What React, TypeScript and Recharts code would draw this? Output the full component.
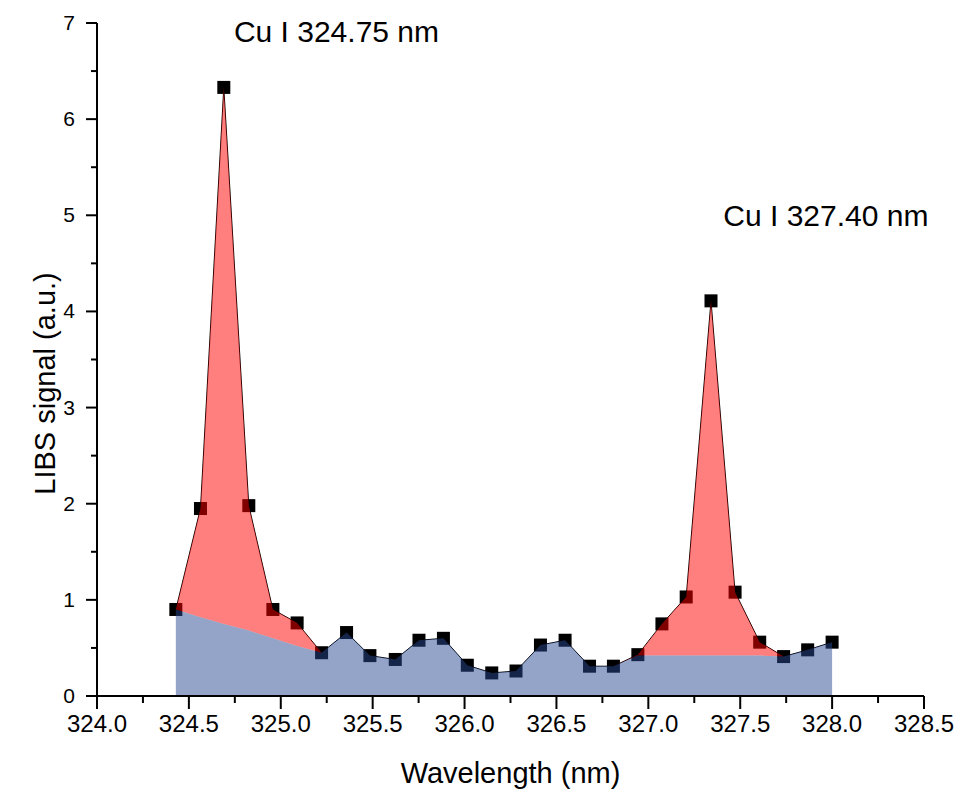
import React from "react";
import {
  ComposedChart,
  Area,
  Line,
  XAxis,
  YAxis,
  ReferenceDot,
  Label,
} from "recharts";

// Cu I doublet, LIBS spectrum with fitted continuum
const wavelength = [
  324.429, 324.563, 324.69, 324.826, 324.957, 325.089, 325.222, 325.358,
  325.485, 325.623, 325.752, 325.885, 326.015, 326.148, 326.28, 326.413,
  326.547, 326.68, 326.81, 326.943, 327.074, 327.206, 327.341, 327.472,
  327.606, 327.736, 327.867, 328.0,
];
const signal = [
  0.9, 1.95, 6.33, 1.98, 0.9, 0.76, 0.45, 0.66, 0.42, 0.38, 0.58, 0.6, 0.32,
  0.24, 0.26, 0.53, 0.58, 0.31, 0.31, 0.43, 0.75, 1.03, 4.11, 1.08, 0.56,
  0.41, 0.48, 0.56,
];
const continuum = [
  0.9, 0.82, 0.75, 0.68, 0.6, 0.52, 0.45, 0.66, 0.42, 0.38, 0.58, 0.6, 0.32,
  0.24, 0.26, 0.53, 0.58, 0.31, 0.31, 0.42, 0.42, 0.42, 0.42, 0.42, 0.42,
  0.41, 0.48, 0.56,
];

const xTicks = [
  324.0, 324.25, 324.5, 324.75, 325.0, 325.25, 325.5, 325.75, 326.0, 326.25,
  326.5, 326.75, 327.0, 327.25, 327.5, 327.75, 328.0, 328.25, 328.5,
];
const yTicks = [0, 0.5, 1, 1.5, 2, 2.5, 3, 3.5, 4, 4.5, 5, 5.5, 6, 6.5, 7];

const lineNames = ["Cu I 324.75 nm", "Cu I 327.40 nm"];
const lineNameX = [325.303, 327.966];
const lineNameY = [6.91, 4.995];

const FONT = "Arial, 'Liberation Sans', sans-serif";
const W = 965;
const H = 796;
const MARGIN = { top: 23, right: 41, left: 0, bottom: 0 };

const data = wavelength.map((w, i) => ({
  wavelength: w,
  signal: signal[i],
  continuum: continuum[i],
  peak: [continuum[i], signal[i]],
}));

const isMajor = (v: number, step: number) =>
  Math.abs(v / step - Math.round(v / step)) < 1e-6;

function XTick(props: any) {
  const { x, y, payload } = props;
  const major = isMajor(payload.value, 0.5);
  return (
    <g>
      <line x1={x} x2={x} y1={y} y2={y + (major ? 13 : 7)} stroke="#000" strokeWidth={2} />
      {major && (
        <text x={x} y={y + 36} textAnchor="middle" fontSize={24} fontFamily={FONT} fill="#000">
          {payload.value.toFixed(1)}
        </text>
      )}
    </g>
  );
}

function YTick(props: any) {
  const { x, y, payload } = props;
  const major = isMajor(payload.value, 1);
  return (
    <g>
      <line x1={x} x2={x - (major ? 11 : 6)} y1={y} y2={y} stroke="#000" strokeWidth={2} />
      {major && (
        <text x={x - 22} y={y + 7} textAnchor="end" fontSize={21} fontFamily={FONT} fill="#000">
          {payload.value}
        </text>
      )}
    </g>
  );
}

function SquareDot(props: any) {
  const { cx, cy, index } = props;
  if (cx == null || cy == null) return null;
  return <rect key={`sq-${index}`} x={cx - 6.5} y={cy - 6.5} width={13} height={13} fill="#000" stroke="none" />;
}

// same scales in both layers; only the top layer shows the axes
function axes(visible: boolean) {
  return [
    <XAxis
      key="x"
      dataKey="wavelength"
      type="number"
      domain={[324, 328.5]}
      ticks={xTicks}
      interval={0}
      height={100}
      tickSize={0}
      tickMargin={0}
      tickLine={false}
      tick={visible ? <XTick /> : false}
      axisLine={visible ? { stroke: "#000", strokeWidth: 2 } : false}
    >
      {visible && (
        <Label
          content={(p: any) => {
            const vb = p.viewBox;
            return (
              <text x={vb.x + vb.width / 2} y={vb.y + 87} textAnchor="middle" fontSize={29} fontFamily={FONT} fill="#000">
                Wavelength (nm)
              </text>
            );
          }}
        />
      )}
    </XAxis>,
    <YAxis
      key="y"
      type="number"
      domain={[0, 7]}
      ticks={yTicks}
      interval={0}
      width={97}
      tickSize={0}
      tickMargin={0}
      tickLine={false}
      tick={visible ? <YTick /> : false}
      axisLine={visible ? { stroke: "#000", strokeWidth: 2 } : false}
    >
      {visible && (
        <Label
          content={(p: any) => {
            const vb = p.viewBox;
            const cx = vb.x + 55;
            const cy = vb.y + vb.height / 2 + 24;
            return (
              <text
                x={cx}
                y={cy}
                transform={`rotate(-90 ${cx} ${cy})`}
                textAnchor="middle"
                fontSize={29}
                fontFamily={FONT}
                fill="#000"
              >
                LIBS signal (a.u.)
              </text>
            );
          }}
        />
      )}
    </YAxis>,
  ];
}

export default function App() {
  return (
    <div style={{ position: "absolute", left: 0, top: 0, width: W, height: H, background: "#fff", fontFamily: FONT }}>
      {/* bottom layer: measured points and connecting line */}
      <div style={{ position: "absolute", left: 0, top: 0 }}>
        <ComposedChart width={W} height={H} data={data} margin={MARGIN}>
          {axes(false)}
          <Line
            type="linear"
            dataKey="signal"
            stroke="#000"
            strokeWidth={1}
            dot={SquareDot}
            activeDot={false}
            isAnimationActive={false}
          />
        </ComposedChart>
      </div>

      {/* top layer: translucent peak and continuum fills, axes, line labels */}
      <div style={{ position: "absolute", left: 0, top: 0 }}>
        <ComposedChart width={W} height={H} data={data} margin={MARGIN}>
          {axes(true)}
          <Area
            type="linear"
            dataKey="peak"
            stroke="none"
            fill="#ff0000"
            fillOpacity={0.5}
            dot={false}
            activeDot={false}
            isAnimationActive={false}
          />
          <Area
            type="linear"
            dataKey="continuum"
            stroke="none"
            fill="#2a4a92"
            fillOpacity={0.5}
            dot={false}
            activeDot={false}
            isAnimationActive={false}
          />
          {lineNames.map((name, i) => (
            <ReferenceDot
              key={name}
              x={lineNameX[i]}
              y={lineNameY[i]}
              r={0}
              fill="none"
              stroke="none"
              label={{ value: name, position: "center", fontSize: 30, fontFamily: FONT, fill: "#000" }}
            />
          ))}
        </ComposedChart>
      </div>
    </div>
  );
}
